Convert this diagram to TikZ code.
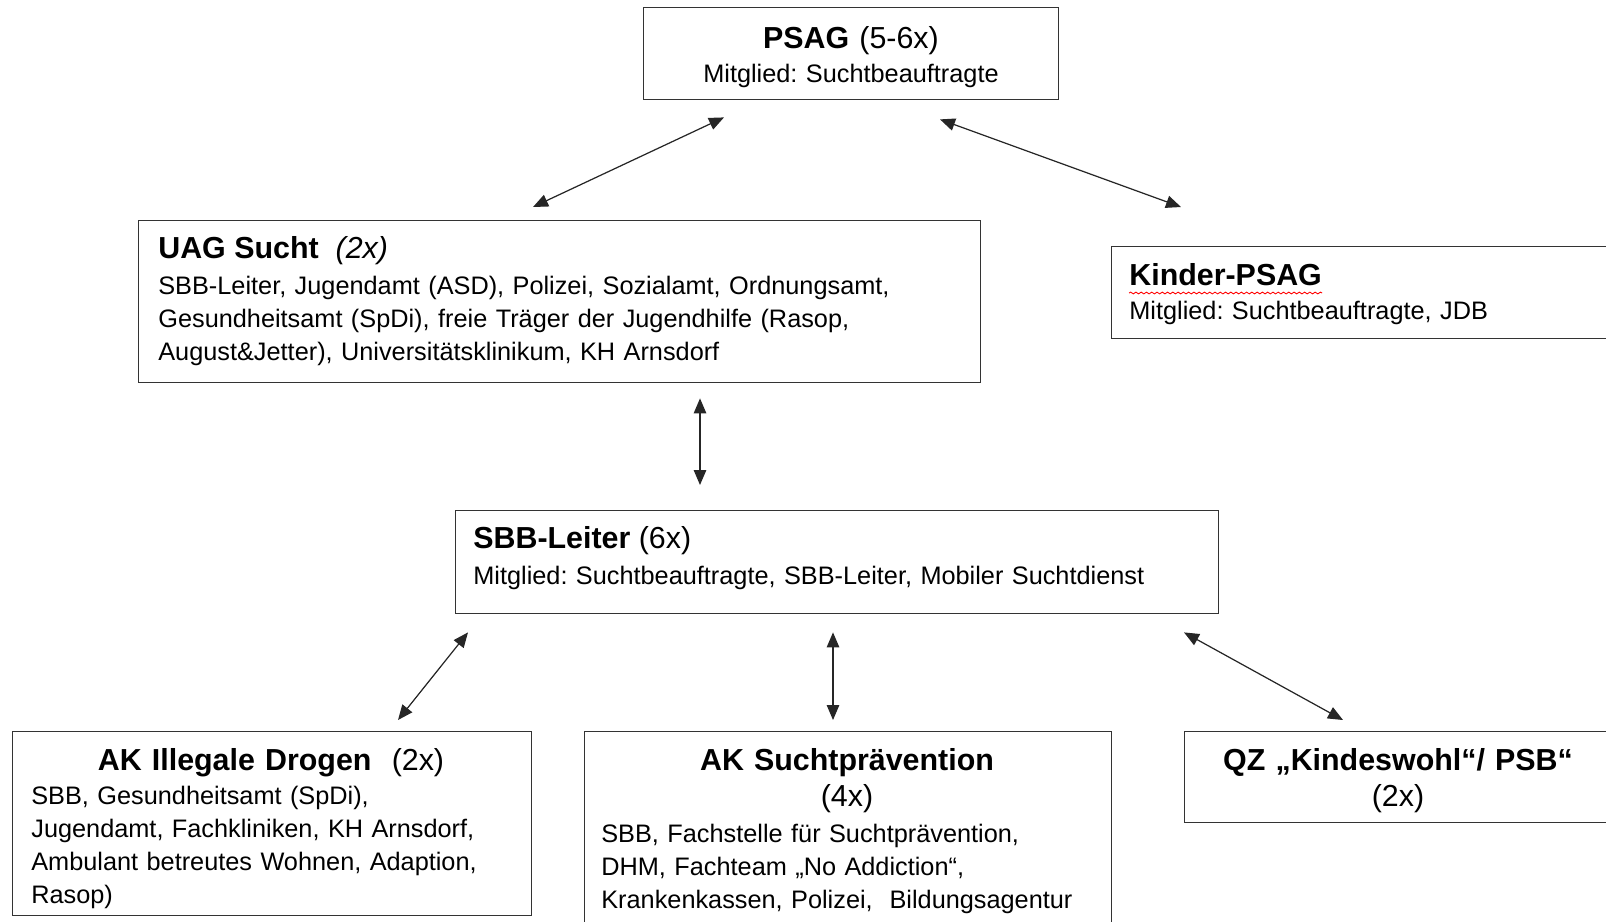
\documentclass[tikz,border=0pt]{standalone}
\usepackage{fontspec}
\setmainfont{Liberation Sans}
\frenchspacing
\usetikzlibrary{arrows.meta, calc, decorations.pathmorphing}

\tikzset{
  box/.style={draw=black!80, line width=0.8pt, inner sep=0pt, anchor=north west},
  titletext/.style={font=\fontsize{17.3}{21}\selectfont, inner sep=0pt, align=center, text width=#1, anchor=base},
  titleleft/.style={font=\fontsize{17.3}{21}\selectfont, inner sep=0pt, anchor=base west},
  bodytext/.style={font=\fontsize{14.4}{18.8}\selectfont, inner sep=0pt, align=left, text width=#1, anchor=base west},
  link/.style={{Triangle[length=0.3cm,width=0.25cm]}-{Triangle[length=0.3cm,width=0.25cm]}, line width=0.7pt, draw=black!85},
}

\begin{document}
\begin{tikzpicture}[x=0.02cm, y=-0.02cm]
  \useasboundingbox (0,0) rectangle (1606,921);
  \clip (0,0) rectangle (1606,921);

  % Kästen
  \node[box, minimum width=8.30cm, minimum height=1.84cm] (psag) at (643,7) {};
  \node[box, minimum width=16.84cm, minimum height=3.24cm] (uag) at (138,220) {};
  \node[box, minimum width=10.02cm, minimum height=1.84cm] (kinder) at (1111,246) {};
  \node[box, minimum width=15.26cm, minimum height=2.06cm] (sbb) at (455,510) {};
  \node[box, minimum width=10.38cm, minimum height=3.68cm] (akdrogen) at (12,731) {};
  \node[box, minimum width=10.54cm, minimum height=4.20cm] (aksucht) at (584,731) {};
  \node[box, minimum width=8.56cm, minimum height=1.82cm] (qz) at (1184,731) {};

  % Texte
  \node[titletext=8cm] (psagtitle) at (851,48) {\textbf{PSAG} (5-6x)};
  \node[titletext=8cm, font=\fontsize{14.4}{18.8}\selectfont] (psagbody) at (851,82) {Mitglied: Suchtbeauftragte};

  \node[titleleft] (uagtitle) at (158,258) {\textbf{UAG Sucht}\ \ \textit{(2x)}};
  \node[bodytext=16.4cm] (uagbody) at (158,294) {SBB-Leiter, Jugendamt (ASD), Polizei, Sozialamt, Ordnungsamt,\\
    Gesundheitsamt (SpDi), freie Träger der Jugendhilfe (Rasop,\\
    August\&Jetter), Universitätsklinikum, KH Arnsdorf};

  \node[titleleft] (kindertitle) at (1129,285) {\textbf{Kinder-PSAG}};
  \node[bodytext=9.5cm] (kinderbody) at (1129,319) {Mitglied: Suchtbeauftragte, JDB};
  \draw[red, line width=0.5pt, decorate, decoration={snake, amplitude=0.5pt, segment length=3pt}]
    ($(kindertitle.base west)+(0,8)$) -- ($(kindertitle.base east)+(0,8)$);

  \node[titleleft] (sbbtitle) at (473,548) {\textbf{SBB-Leiter} (6x)};
  \node[bodytext=14.8cm] (sbbbody) at (473,584) {Mitglied: Suchtbeauftragte, SBB-Leiter, Mobiler Suchtdienst};

  \node[titletext=10cm] (akdrogentitle) at (271,770) {\textbf{AK Illegale Drogen}\ \ (2x)};
  \node[bodytext=10cm] (akdrogenbody) at (31,804) {SBB, Gesundheitsamt (SpDi),\\
    Jugendamt, Fachkliniken, KH Arnsdorf,\\
    Ambulant betreutes Wohnen, Adaption,\\
    Rasop)};

  \node[titletext=10cm] (aksuchttitle) at (847,770) {\textbf{AK Suchtprävention}\\(4x)};
  \node[bodytext=10cm] (aksuchtbody) at (601,842) {SBB, Fachstelle für Suchtprävention,\\
    DHM, Fachteam „No Addiction“,\\
    Krankenkassen, Polizei,\ \ Bildungsagentur};

  \node[titletext=8.5cm] (qztitle) at (1398,770) {\textbf{QZ „Kindeswohl“/ PSB“}\\(2x)};

  % Verbindungen
  \draw[link] ($(psag.south west)+(81,17)$) -- ($(uag.north west)+(395,-13)$);
  \draw[link] ($(psag.south west)+(297,19)$) -- ($(kinder.north west)+(70,-39)$);
  \draw[link] ($(uag.south west)+(562,15)$) -- ($(sbb.north west)+(245,-25)$);
  \draw[link] ($(sbb.south west)+(13,18)$) -- ($(akdrogen.north west)+(386,-11)$);
  \draw[link] ($(sbb.south west)+(378,18)$) -- ($(aksucht.north west)+(249,-11)$);
  \draw[link] ($(sbb.south west)+(729,18)$) -- ($(qz.north west)+(159,-11)$);
\end{tikzpicture}
\end{document}
